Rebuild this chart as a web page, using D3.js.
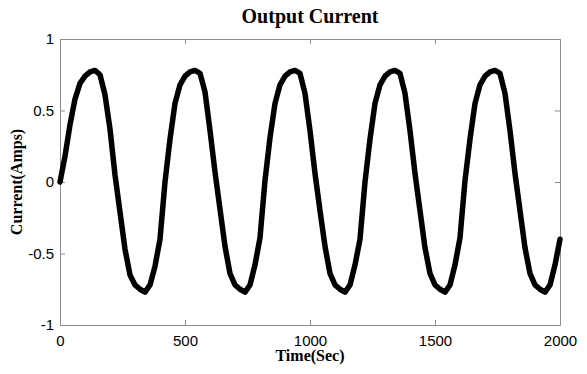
<!DOCTYPE html>
<html>
<head>
<meta charset="utf-8">
<script src="https://cdn.jsdelivr.net/npm/d3@7"></script>
<style>
  body { margin: 0; background: #fff; }
  .tick text { font-family: "Liberation Sans", Arial, sans-serif; font-size: 15px; fill: #000; }
</style>
</head>
<body>
<div id="canvas"></div>
<script>
// time samples, every 20 sec
const times = d3.range(0, 2001, 20);

// current (Amps), one value per time sample
const current = [
    0.00, 0.18, 0.40, 0.58, 0.69, 0.74, 0.77, 0.78, 0.75, 0.61,
    0.37, 0.05, -0.21, -0.47, -0.65, -0.72, -0.75, -0.77, -0.72, -0.59,
    -0.40, 0.00, 0.30, 0.55, 0.68, 0.74, 0.77, 0.78, 0.76, 0.63,
    0.36, 0.07, -0.19, -0.45, -0.64, -0.72, -0.75, -0.77, -0.72, -0.58,
    -0.39, 0.01, 0.31, 0.55, 0.68, 0.74, 0.77, 0.78, 0.76, 0.62,
    0.36, 0.06, -0.20, -0.45, -0.64, -0.72, -0.75, -0.77, -0.72, -0.58,
    -0.40, 0.00, 0.30, 0.55, 0.68, 0.74, 0.77, 0.78, 0.76, 0.62,
    0.36, 0.06, -0.20, -0.46, -0.64, -0.72, -0.75, -0.77, -0.72, -0.58,
    -0.39, 0.01, 0.30, 0.55, 0.68, 0.74, 0.77, 0.78, 0.76, 0.62,
    0.36, 0.06, -0.20, -0.46, -0.64, -0.72, -0.75, -0.77, -0.72, -0.58,
    -0.40
];

const xTicks = [0, 500, 1000, 1500, 2000];
const yTicks = [-1, -0.5, 0, 0.5, 1];

const width = 587;
const height = 374;
const margin = { top: 39, left: 60, bottom: 49, right: 27 };
const iwidth = width - margin.left - margin.right;
const iheight = height - margin.top - margin.bottom;

const svg = d3.select("#canvas").append("svg")
    .attr("width", width)
    .attr("height", height);

const g = svg.append("g")
    .attr("transform", `translate(${margin.left},${margin.top})`);

const x = d3.scaleLinear().domain([0, 2000]).range([0, iwidth]);
const y = d3.scaleLinear().domain([-1, 1]).range([iheight, 0]);

const axisColor = "#8c8c8c";
const plain = (d) => String(d);

function styleAxis(sel) {
    sel.selectAll("path.domain").attr("stroke", axisColor);
    sel.selectAll(".tick line").attr("stroke", axisColor);
}

// bottom and left axes carry the labels, ticks point inward
g.append("g")
    .attr("transform", `translate(0,${iheight})`)
    .call(d3.axisBottom(x).tickValues(xTicks).tickFormat(plain).tickSize(-5).tickSizeOuter(0).tickPadding(10))
    .call(styleAxis);

g.append("g")
    .call(d3.axisLeft(y).tickValues(yTicks).tickFormat(plain).tickSize(-5).tickSizeOuter(0).tickPadding(6))
    .call(styleAxis);

// top and right edges of the box
g.append("g")
    .call(d3.axisTop(x).tickValues(xTicks).tickFormat("").tickSize(-5).tickSizeOuter(0))
    .call(styleAxis);

g.append("g")
    .attr("transform", `translate(${iwidth},0)`)
    .call(d3.axisRight(y).tickValues(yTicks).tickFormat("").tickSize(-5).tickSizeOuter(0))
    .call(styleAxis);

const line = d3.line()
    .x((d, i) => x(times[i]))
    .y((d) => y(d));

g.append("path")
    .datum(current)
    .attr("fill", "none")
    .attr("stroke", "#000")
    .attr("stroke-width", 5.5)
    .attr("stroke-linejoin", "round")
    .attr("stroke-linecap", "round")
    .attr("d", line);

svg.append("text")
    .attr("x", margin.left + iwidth / 2)
    .attr("y", 23)
    .attr("text-anchor", "middle")
    .style("font-family", "'Liberation Serif', 'Times New Roman', serif")
    .style("font-weight", "bold")
    .style("font-size", "20px")
    .text("Output Current");

svg.append("text")
    .attr("x", margin.left + iwidth / 2)
    .attr("y", 361)
    .attr("text-anchor", "middle")
    .style("font-family", "'Liberation Serif', 'Times New Roman', serif")
    .style("font-weight", "bold")
    .style("font-size", "16px")
    .text("Time(Sec)");

svg.append("text")
    .attr("transform", `translate(22,${margin.top + iheight / 2}) rotate(-90)`)
    .attr("text-anchor", "middle")
    .style("font-family", "'Liberation Serif', 'Times New Roman', serif")
    .style("font-weight", "bold")
    .style("font-size", "16px")
    .text("Current(Amps)");
</script>
</body>
</html>
